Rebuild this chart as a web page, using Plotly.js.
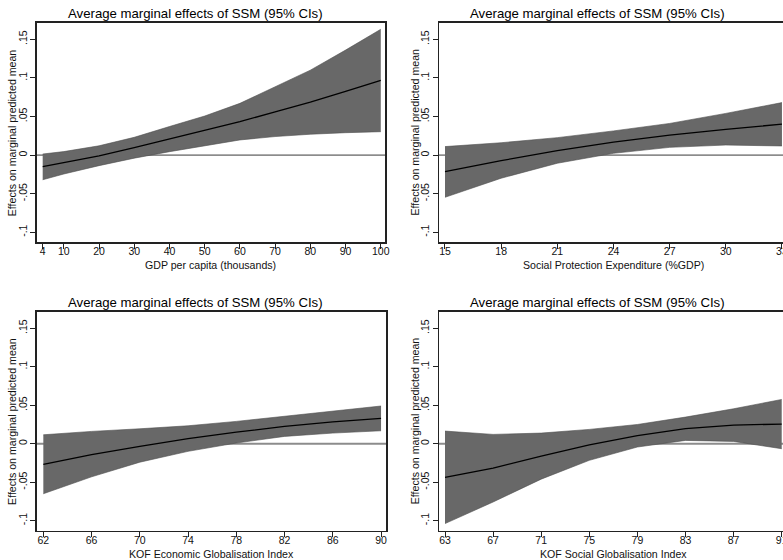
<!DOCTYPE html>
<html>
<head>
<meta charset="utf-8">
<script src="https://cdn.plot.ly/plotly-3.0.1.min.js"></script>
<style>
html, body { margin:0; padding:0; overflow:hidden; background:#fff; }
#chart { width:790px; height:560px; }
</style>
</head>
<body>
<div id="chart"></div>
<script>
// ---------- data ----------
const titleText = "Average marginal effects of SSM (95% CIs)";
const yAxisLabel = "Effects on marginal predicted mean";
const yTickVals = [-0.1, -0.05, 0, 0.05, 0.1, 0.15];
const yTickText = ["-.1", "-.05", "0", ".05", ".1", ".15"];

// Panel 1: GDP per capita
const gdpX     = [4, 10, 20, 30, 40, 50, 60, 70, 80, 90, 100];
const gdpMean  = [-0.015, -0.010, -0.001, 0.0096, 0.0205, 0.0316, 0.0433, 0.056, 0.0685, 0.0825, 0.0967];
const gdpLower = [-0.032, -0.0245, -0.0137, -0.004, 0.0044, 0.012, 0.0196, 0.024, 0.027, 0.029, 0.0303];
const gdpUpper = [0.0014, 0.0045, 0.012, 0.023, 0.037, 0.0506, 0.067, 0.088, 0.110, 0.136, 0.163];
const gdpTitle = "GDP per capita (thousands)";

// Panel 2: Social protection expenditure
const speX     = [15, 18, 21, 24, 27, 30, 33];
const speMean  = [-0.0215, -0.0072, 0.0057, 0.0168, 0.0258, 0.0334, 0.040];
const speLower = [-0.0547, -0.030, -0.0106, 0.0023, 0.010, 0.013, 0.0118];
const speUpper = [0.011, 0.016, 0.0226, 0.0313, 0.041, 0.054, 0.068];
const speTitle = "Social Protection Expenditure (%GDP)";

// Panel 3: KOF economic globalisation
const kofeX     = [62, 66, 70, 74, 78, 82, 86, 90];
const kofeMean  = [-0.0267, -0.0142, -0.0034, 0.0067, 0.0150, 0.0224, 0.0283, 0.0329];
const kofeLower = [-0.065, -0.043, -0.024, -0.0099, 0.0009, 0.0095, 0.0138, 0.0168];
const kofeUpper = [0.0116, 0.016, 0.0194, 0.0233, 0.029, 0.0354, 0.0427, 0.049];
const kofeTitle = "KOF Economic Globalisation Index";

// Panel 4: KOF social globalisation
const kofsX     = [63, 67, 71, 75, 79, 83, 87, 91];
const kofsMean  = [-0.0437, -0.0318, -0.016, -0.0015, 0.0104, 0.0195, 0.0242, 0.0255];
const kofsLower = [-0.1038, -0.0757, -0.046, -0.0216, -0.0043, 0.0043, 0.003, -0.0065];
const kofsUpper = [0.0164, 0.0121, 0.0138, 0.0186, 0.025, 0.0346, 0.0454, 0.0575];
const kofsTitle = "KOF Social Globalisation Index";

// ---------- layout helpers ----------
const W = 790, H = 560;
const FONT = "Liberation Sans, Arial, sans-serif";
const px = v => v / W;
const py = v => 1 - v / H;

const panels = [
  {x: gdpX,  m: gdpMean,  lo: gdpLower,  hi: gdpUpper,  xt: gdpTitle,
   dom: [36.7, 385], top: 22.7, bot: 242.3, xr: [2.3, 101.2],
   tcx: 195.8, tcy: 13.4, zc: "#3a3a3a", zw: 1},
  {x: speX,  m: speMean,  lo: speLower,  hi: speUpper,  xt: speTitle,
   dom: [439, 787], top: 22.7, bot: 242.3, xr: [14.68, 33.27],
   tcx: 597.5, tcy: 13.4, zc: "#3a3a3a", zw: 1},
  {x: kofeX, m: kofeMean, lo: kofeLower, hi: kofeUpper, xt: kofeTitle,
   dom: [36.7, 386], top: 311.7, bot: 530.7, xr: [61.45, 90.41],
   tcx: 195.8, tcy: 302.3, zc: "#8c8c8c", zw: 2},
  {x: kofsX, m: kofsMean, lo: kofsLower, hi: kofsUpper, xt: kofsTitle,
   dom: [439, 787], top: 311.7, bot: 530.7, xr: [62.5, 91.44],
   tcx: 597.5, tcy: 302.3, zc: "#8c8c8c", zw: 2}
];

const traces = [];
const layout = {
  width: W, height: H,
  margin: {l: 0, r: 0, t: 0, b: 0},
  paper_bgcolor: "#fff", plot_bgcolor: "#fff",
  showlegend: false,
  font: {family: FONT, size: 10.5, color: "#111"},
  annotations: [], shapes: []
};

panels.forEach((p, i) => {
  const n = i + 1;
  const xa = n === 1 ? "x" : "x" + n;
  const ya = n === 1 ? "y" : "y" + n;
  const xk = n === 1 ? "xaxis" : "xaxis" + n;
  const yk = n === 1 ? "yaxis" : "yaxis" + n;

  traces.push({x: p.x, y: p.lo, xaxis: xa, yaxis: ya, type: "scatter", mode: "lines",
    line: {color: "#4f4f4f", width: 0.6}, hoverinfo: "skip"});
  traces.push({x: p.x, y: p.hi, xaxis: xa, yaxis: ya, type: "scatter", mode: "lines",
    fill: "tonexty", fillcolor: "#686868",
    line: {color: "#4f4f4f", width: 0.6}, hoverinfo: "skip"});
  traces.push({x: p.x, y: p.m, xaxis: xa, yaxis: ya, type: "scatter", mode: "lines",
    line: {color: "#000", width: 1.3}, hoverinfo: "skip"});

  layout[xk] = {
    domain: [px(p.dom[0]), px(p.dom[1])],
    anchor: ya, range: p.xr,
    tickmode: "array", tickvals: p.x, ticktext: p.x.map(String),
    ticks: "outside", ticklen: 5, tickwidth: 1, tickcolor: "#222",
    ticklabelstandoff: -6,
    showline: true, linecolor: "#222", linewidth: 1.5, mirror: true,
    showgrid: false, zeroline: false,
    tickfont: {family: FONT, size: 10.5, color: "#111"}
  };
  layout[yk] = {
    domain: [py(p.bot), py(p.top)],
    anchor: xa, range: [-0.113, 0.1715],
    tickmode: "array", tickvals: yTickVals, ticktext: yTickText,
    tickangle: -90,
    ticks: "outside", ticklen: 5, tickwidth: 1, tickcolor: "#222",
    ticklabelstandoff: -1,
    showline: true, linecolor: "#222", linewidth: 1.5, mirror: true,
    showgrid: false, zeroline: false,
    tickfont: {family: FONT, size: 10.5, color: "#111"}
  };

  layout.shapes.push({type: "line", layer: "below",
    xref: xa + " domain", x0: 0, x1: 1, yref: ya, y0: 0, y1: 0,
    line: {color: p.zc, width: p.zw}});

  // panel title
  layout.annotations.push({text: titleText, showarrow: false,
    xref: "paper", yref: "paper", x: px(p.tcx), y: py(p.tcy),
    xanchor: "center", yanchor: "middle",
    font: {family: FONT, size: 13.2, color: "#000"}});
  // x-axis title
  layout.annotations.push({text: p.xt, showarrow: false,
    xref: "paper", yref: "paper", x: px((p.dom[0] + p.dom[1]) / 2), y: py(p.bot + 23),
    xanchor: "center", yanchor: "middle",
    font: {family: FONT, size: 10.6, color: "#111"}});
  // y-axis title
  layout.annotations.push({text: yAxisLabel, showarrow: false, textangle: -90,
    xref: "paper", yref: "paper", x: px(p.dom[0] - 24), y: py((p.top + p.bot) / 2),
    xanchor: "center", yanchor: "middle",
    font: {family: FONT, size: 10.6, color: "#111"}});
});

Plotly.newPlot("chart", traces, layout, {displayModeBar: false, staticPlot: true});
</script>
</body>
</html>
